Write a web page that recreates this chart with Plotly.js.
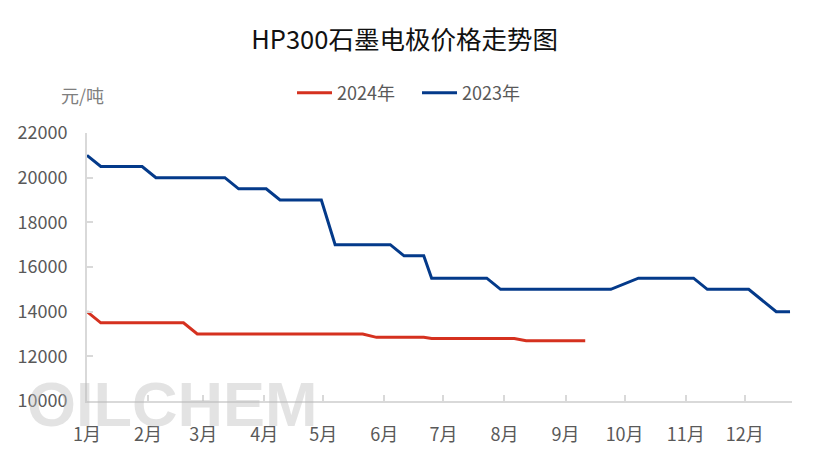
<!DOCTYPE html>
<html>
<head>
<meta charset="utf-8">
<script src="https://cdn.plot.ly/plotly-3.0.1.min.js"></script>
<style>
  html, body { margin: 0; padding: 0; background: #ffffff; }
  #chart { width: 814px; height: 461px; }
</style>
</head>
<body>
<div id="chart"></div>
<script>
// ---- data ----
var chartTitle = 'HP300石墨电极价格走势图';
var unitLabel = '元/吨';
var monthLabels = ['1月','2月','3月','4月','5月','6月','7月','8月','9月','10月','11月','12月'];
var monthStarts = ['01-01','02-01','03-01','04-01','05-01','06-01','07-01','08-01','09-01','10-01','11-01','12-01'];
var yTicks = [10000, 12000, 14000, 16000, 18000, 20000, 22000];

var name2024 = '2024年';
var dates2024 = ['01-01','01-08','02-19','02-26','05-21','05-28','06-21','06-25','08-06','08-12','09-11'];
var values2024 = [14000, 13500, 13500, 13000, 13000, 12850, 12850, 12800, 12800, 12700, 12700];

var name2023 = '2023年';
var dates2023 = ['01-01','01-08','01-29','02-05','03-12','03-19','04-02','04-09','04-30','05-07','06-04','06-11','06-21','06-25','07-23','07-30','09-24','10-08','11-05','11-12','12-03','12-17','12-24'];
var values2023 = [21000, 20500, 20500, 20000, 20000, 19500, 19500, 19000, 19000, 17000, 17000, 16500, 16500, 15500, 15500, 15000, 15000, 15500, 15500, 15000, 15000, 14000, 14000];

// common calendar year used only to place month-day positions on one axis
var baseYear = '2023-';
function toDates(arr) { return arr.map(function (d) { return baseYear + d; }); }

var FONT = "'Noto Sans CJK SC', 'Noto Sans', sans-serif";
var AXIS_GREY = '#d9d9d9';
var TEXT_GREY = '#595959';

var traces = [
  {
    type: 'scatter', mode: 'lines', name: name2024,
    x: toDates(dates2024), y: values2024,
    line: { color: '#d5311f', width: 3 }
  },
  {
    type: 'scatter', mode: 'lines', name: name2023,
    x: toDates(dates2023), y: values2023,
    line: { color: '#043a8a', width: 3 }
  }
];

var layout = {
  width: 814, height: 461,
  paper_bgcolor: '#ffffff', plot_bgcolor: '#ffffff',
  margin: { l: 87, r: 22, t: 133, b: 60 },
  font: { family: FONT, color: TEXT_GREY, size: 18 },
  title: {
    text: chartTitle,
    font: { family: FONT, size: 25.5, color: '#111111' },
    x: 0.497, xanchor: 'center', xref: 'container',
    y: 1 - 40 / 461, yref: 'container', yanchor: 'middle'
  },
  showlegend: true,
  legend: {
    orientation: 'h',
    x: 0.2908, xanchor: 'left',
    y: 1.149, yanchor: 'middle',
    font: { family: FONT, size: 18, color: TEXT_GREY },
    bgcolor: 'rgba(0,0,0,0)',
    itemwidth: 35,
    entrywidth: 75
  },
  xaxis: {
    type: 'date',
    range: [baseYear + '01-01', baseYear + '12-25'],
    tickmode: 'array',
    tickvals: toDates(monthStarts),
    ticktext: monthLabels,
    showgrid: false, zeroline: false,
    showline: true, linecolor: AXIS_GREY, linewidth: 2,
    ticks: 'inside', ticklen: 6, tickwidth: 2, tickcolor: AXIS_GREY,
    ticklabelstandoff: 16,
    tickfont: { family: FONT, size: 18, color: TEXT_GREY },
    fixedrange: true
  },
  yaxis: {
    range: [10000, 22000],
    tickmode: 'array',
    tickvals: yTicks,
    ticktext: yTicks.map(String),
    showgrid: false, zeroline: false,
    showline: true, linecolor: AXIS_GREY, linewidth: 2,
    ticks: 'inside', ticklen: 6, tickwidth: 2, tickcolor: AXIS_GREY,
    ticklabelstandoff: 14,
    tickfont: { family: FONT, size: 18, color: TEXT_GREY },
    fixedrange: true
  },
  annotations: [
    {
      text: unitLabel, xref: 'paper', yref: 'paper',
      x: -0.006, y: 1.142, xanchor: 'center', yanchor: 'middle',
      showarrow: false,
      font: { family: FONT, size: 18, color: '#7f7f7f' }
    },
    {
      text: '<b>OILCHEM</b>', xref: 'paper', yref: 'paper',
      x: 0.12, y: -0.01, xanchor: 'center', yanchor: 'middle',
      showarrow: false,
      font: { family: "'Liberation Sans', Arial, sans-serif", size: 63, color: 'rgba(185,185,185,0.4)' }
    }
  ]
};

Plotly.newPlot('chart', traces, layout, { displayModeBar: false, staticPlot: true });
</script>
</body>
</html>
